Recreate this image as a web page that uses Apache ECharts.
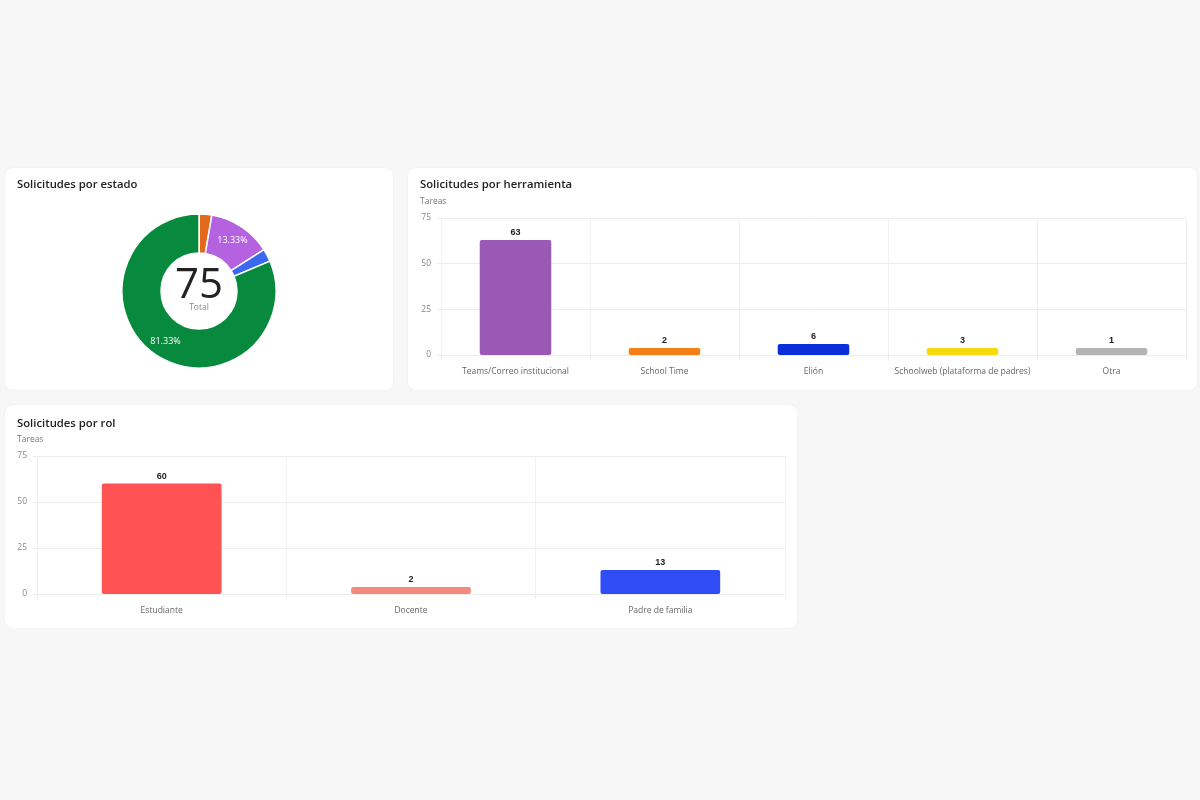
<!DOCTYPE html>
<html>
<head>
<meta charset="utf-8">
<script src="https://cdn.jsdelivr.net/npm/echarts@6/dist/echarts.min.js"></script>
<style>
  html, body { margin: 0; padding: 0; width: 1200px; height: 800px; background: #f7f7f7; overflow: hidden; }
  .card { position: absolute; background: #fff; border-radius: 8px; box-shadow: 0 0 2px rgba(0,0,0,0.06); }
  .chart { width: 100%; height: 100%; }
</style>
</head>
<body>
<div class="card" style="left:5px;top:168px;width:388px;height:222px;"><div id="c1" class="chart"></div></div>
<div class="card" style="left:408px;top:168px;width:789px;height:222px;"><div id="c2" class="chart"></div></div>
<div class="card" style="left:5px;top:405px;width:792px;height:223px;"><div id="c3" class="chart"></div></div>
<script>
// ---- Data ----
const estadoValues = [2, 10, 2, 61];
const estadoColors = ['#e2691b', '#b562e0', '#3b68f2', '#078a3e'];

const herramientaCategories = ['Teams/Correo institucional', 'School Time', 'Elión', 'Schoolweb (plataforma de padres)', 'Otra'];
const herramientaValues = [63, 2, 6, 3, 1];
const herramientaColors = ['#9b59b6', '#f57f17', '#0a2fd9', '#f7d90f', '#b4b4b4'];

const rolCategories = ['Estudiante', 'Docente', 'Padre de familia'];
const rolValues = [60, 2, 13];
const rolColors = ['#ff5252', '#f48a7c', '#2f4cf5'];

const yTicks = [0, 25, 50, 75];

const FONT = '"Open Sans", "Noto Sans", sans-serif';

// ---- Donut ----
const total = estadoValues.reduce((a, b) => a + b, 0);
const c1 = echarts.init(document.getElementById('c1'));
c1.setOption({
  animation: false,
  textStyle: { fontFamily: FONT },
  title: [
    { text: 'Solicitudes por estado', left: 12, top: 11, padding: 0, textStyle: { fontSize: 11.3, fontWeight: 600, color: '#222', fontFamily: FONT } }
  ],
  graphic: [
    { type: 'text', x: 194, y: 118, style: { text: String(total), fill: '#222', font: '400 42px ' + FONT, textAlign: 'center', textVerticalAlign: 'middle' } },
    { type: 'text', x: 194, y: 140, style: { text: 'Total', fill: '#888', font: '8.5px ' + FONT, textAlign: 'center', textVerticalAlign: 'middle' } }
  ],
  series: [{
    type: 'pie',
    center: [194, 123],
    radius: [38, 77],
    startAngle: 90,
    clockwise: true,
    itemStyle: { borderColor: '#fff', borderWidth: 1.5 },
    label: { show: true, position: 'inside', formatter: '{d}%', color: '#fff', fontSize: 9, fontFamily: FONT },
    labelLine: { show: false },
    emphasis: { disabled: true },
    data: estadoValues.map((v, i) => ({
      value: v,
      itemStyle: { color: estadoColors[i] },
      label: { show: v / total > 0.05 }
    }))
  }]
});

// ---- Bar chart builder ----
function barOption(title, cats, vals, colors, grid, titleTop, subTop) {
  return {
    animation: false,
    textStyle: { fontFamily: FONT },
    title: [
      { text: title, left: 12, top: titleTop, padding: 0, textStyle: { fontSize: 11.3, fontWeight: 600, color: '#222', fontFamily: FONT } },
      { text: 'Tareas', left: 12, top: subTop, padding: 0, textStyle: { fontSize: 8.5, fontWeight: 'normal', color: '#777', fontFamily: FONT } }
    ],
    grid: grid,
    xAxis: {
      type: 'category',
      data: cats,
      axisLine: { show: true, lineStyle: { color: '#ececec' } },
      axisTick: { show: true, length: 5, interval: 0, lineStyle: { color: '#ececec' } },
      splitLine: { show: true, interval: 0, lineStyle: { color: '#f0f0f0' } },
      axisLabel: { color: '#666', fontSize: 8.5, margin: 12, interval: 0, fontFamily: FONT }
    },
    yAxis: {
      type: 'value',
      min: yTicks[0],
      max: yTicks[yTicks.length - 1],
      interval: yTicks[1] - yTicks[0],
      axisLine: { show: false },
      axisTick: { show: true, length: 4, lineStyle: { color: '#ececec' } },
      splitLine: { show: true, lineStyle: { color: '#ececec' } },
      axisLabel: { color: '#888', fontSize: 8.5, margin: 10, fontFamily: FONT }
    },
    series: [{
      type: 'bar',
      barWidth: '48%',
      barMinHeight: 7,
      minBarLength: 7,
      data: vals.map((v, i) => ({ value: v, itemStyle: { color: colors[i], borderRadius: 2 } })),
      label: { show: true, position: 'top', distance: 3, color: '#222', fontSize: 9, fontWeight: 'bold', fontFamily: 'Arial, "Liberation Sans", sans-serif' },
      emphasis: { disabled: true }
    }]
  };
}

const c2 = echarts.init(document.getElementById('c2'));
c2.setOption(barOption('Solicitudes por herramienta', herramientaCategories, herramientaValues, herramientaColors,
  { left: 33, right: 11, top: 50, bottom: 35 }, 11, 29));

const c3 = echarts.init(document.getElementById('c3'));
c3.setOption(barOption('Solicitudes por rol', rolCategories, rolValues, rolColors,
  { left: 32, right: 12, top: 51, bottom: 34 }, 13, 30));
</script>
</body>
</html>
